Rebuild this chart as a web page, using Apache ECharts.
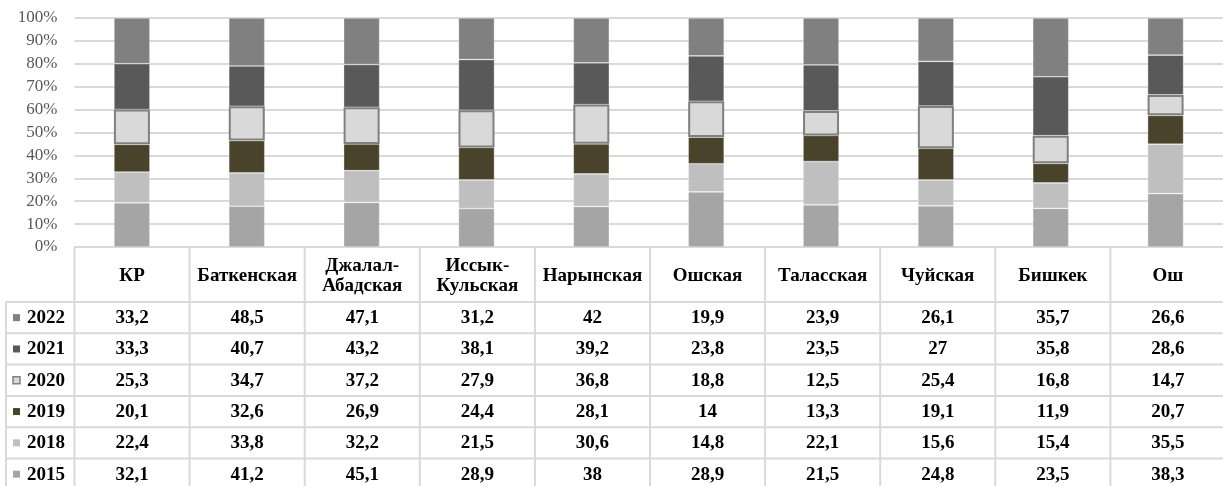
<!DOCTYPE html>
<html>
<head>
<meta charset="utf-8">
<script src="https://cdn.jsdelivr.net/npm/echarts@6/dist/echarts.min.js"></script>
<style>
html,body{margin:0;padding:0;background:#fff;}
#chart{width:1223px;height:486px;}
</style>
</head>
<body>
<div id="chart"></div>
<script>
// ---- Data ----
var categories = ['КР','Баткенская','Джалал-\nАбадская','Иссык-\nКульская','Нарынская','Ошская','Таласская','Чуйская','Бишкек','Ош'];
var years = ['2015','2018','2019','2020','2021','2022'];
var s2015 = [32.1, 41.2, 45.1, 28.9, 38, 28.9, 21.5, 24.8, 23.5, 38.3];
var s2018 = [22.4, 33.8, 32.2, 21.5, 30.6, 14.8, 22.1, 15.6, 15.4, 35.5];
var s2019 = [20.1, 32.6, 26.9, 24.4, 28.1, 14, 13.3, 19.1, 11.9, 20.7];
var s2020 = [25.3, 34.7, 37.2, 27.9, 36.8, 18.8, 12.5, 25.4, 16.8, 14.7];
var s2021 = [33.3, 40.7, 43.2, 38.1, 39.2, 23.8, 23.5, 27, 35.8, 28.6];
var s2022 = [33.2, 48.5, 47.1, 31.2, 42, 19.9, 23.9, 26.1, 35.7, 26.6];
var yTicks = [0,10,20,30,40,50,60,70,80,90,100];

// ---- Styles ----
var colors = {'2015':'#a5a5a5','2018':'#bfbfbf','2019':'#4a432c','2020':'#d9d9d9','2021':'#595959','2022':'#808080'};
var seriesData = {'2015':s2015,'2018':s2018,'2019':s2019,'2020':s2020,'2021':s2021,'2022':s2022};

var gridLeft = 74.5, gridTop = 18, gridW = 1151, gridH = 229;
var colW = gridW / categories.length;
var tableLeft = 6, headerBottom = 302, rowH = 31.3, chartH = 486;
var lineCol = '#d9d9d9';
var serif = '"Liberation Serif", "Times New Roman", serif';
var tableFont = 'bold 19px ' + serif;

// totals for 100% stacking
var totals = categories.map(function(c, i){
  return years.reduce(function(s, y){ return s + seriesData[y][i]; }, 0);
});

var series = years.map(function(y){
  var is2020 = y === '2020';
  return {
    name: y,
    type: 'bar',
    stack: 'total',
    barWidth: 36,
    z: is2020 ? 4 : 2,
    itemStyle: {
      color: colors[y],
      borderColor: is2020 ? '#808080' : 'rgba(255,255,255,0.45)',
      borderWidth: is2020 ? 2 : 0.7
    },
    data: seriesData[y].map(function(v, i){ return v / totals[i] * 100; })
  };
});

// ---- Table graphics ----
var g = [];
var right = gridLeft + gridW + 2;
var bottom = chartH + 5;
g.push({type:'line', shape:{x1:gridLeft, y1:gridTop+gridH, x2:right, y2:gridTop+gridH}, style:{stroke:lineCol, lineWidth:2}});
for (var r = 0; r < years.length; r++) {
  var yy = headerBottom + r * rowH;
  g.push({type:'line', shape:{x1:tableLeft, y1:yy, x2:right, y2:yy}, style:{stroke:lineCol, lineWidth:2}});
}
for (var k = 0; k <= categories.length; k++) {
  var xx = gridLeft + k * colW;
  g.push({type:'line', shape:{x1:xx, y1:gridTop+gridH, x2:xx, y2:bottom}, style:{stroke:lineCol, lineWidth:2}});
}
g.push({type:'line', shape:{x1:tableLeft, y1:headerBottom, x2:tableLeft, y2:bottom}, style:{stroke:lineCol, lineWidth:2}});

categories.forEach(function(c, i){
  g.push({type:'text', x: gridLeft + (i + 0.5) * colW, y: (gridTop + gridH + headerBottom) / 2 + 1.5,
    style:{text:c, font:tableFont, fill:'#000', align:'center', verticalAlign:'middle', lineHeight:20}});
});

var rowYears = years.slice().reverse();
rowYears.forEach(function(y, r){
  var cy = headerBottom + (r + 0.5) * rowH + 0.5;
  g.push({type:'rect', shape:{x:13, y:cy-4, width:7, height:7},
    style:{fill:colors[y], stroke: y === '2020' ? '#808080' : null, lineWidth: y === '2020' ? 1.5 : 0}});
  g.push({type:'text', x:27, y:cy, style:{text:y, font:tableFont, fill:'#000', align:'left', verticalAlign:'middle'}});
  seriesData[y].forEach(function(v, i){
    g.push({type:'text', x: gridLeft + (i + 0.5) * colW, y: cy,
      style:{text:String(v).replace('.', ','), font:tableFont, fill:'#000', align:'center', verticalAlign:'middle'}});
  });
});

var chart = echarts.init(document.getElementById('chart'), null, {renderer:'canvas'});
chart.setOption({
  animation: false,
  backgroundColor: '#fff',
  grid: {left: gridLeft, top: gridTop, width: gridW, height: gridH, containLabel: false},
  xAxis: {
    type: 'category',
    data: categories,
    axisLine: {show: false},
    axisTick: {show: false},
    axisLabel: {show: false}
  },
  yAxis: {
    type: 'value',
    min: yTicks[0],
    max: yTicks[yTicks.length - 1],
    interval: yTicks[1] - yTicks[0],
    axisLine: {show: false},
    axisTick: {show: false},
    splitLine: {lineStyle: {color: lineCol, width: 2}},
    axisLabel: {formatter: '{value}%', color: '#595959', fontFamily: serif, fontSize: 17, margin: 17}
  },
  series: series,
  graphic: g
});
</script>
</body>
</html>
